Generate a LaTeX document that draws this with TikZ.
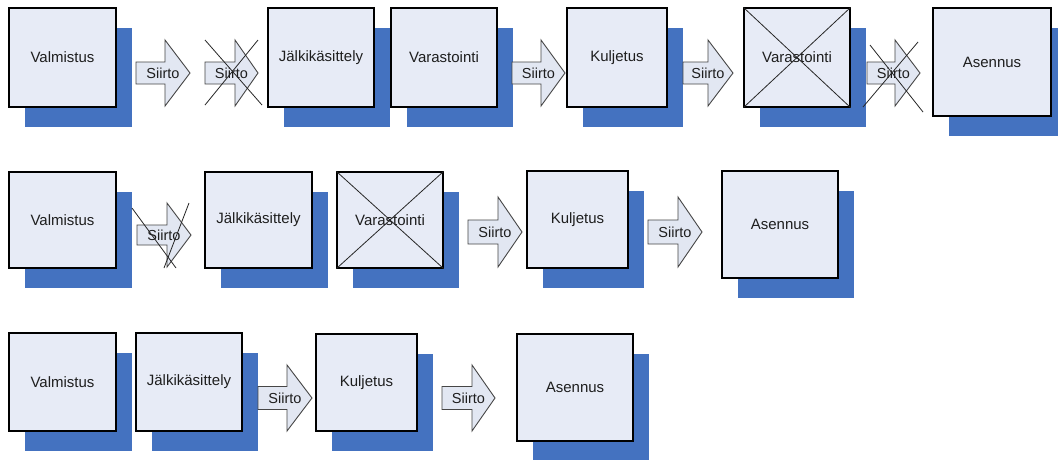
\documentclass[tikz,border=0pt]{standalone}
\usepackage{fontspec}
\setmainfont{Liberation Sans}
\usetikzlibrary{shadows}
\definecolor{boxfill}{RGB}{231,235,246}
\definecolor{shade}{RGB}{68,114,192}
\definecolor{arrfill}{RGB}{226,231,242}
\definecolor{arrline}{RGB}{70,70,70}
\definecolor{txt}{RGB}{30,30,30}
\tikzset{
  pbox/.style={draw=black, line width=1.1pt, fill=boxfill, inner sep=0pt,
    font=\fontsize{15}{18}\selectfont, text=txt,
    general shadow={fill=shade, shadow xshift=16pt, shadow yshift=-19.5pt}},
  arr/.style={draw=arrline, line width=0.9pt, fill=arrfill, line join=miter},
  sirt/.style={inner sep=0pt, font=\fontsize{14.5}{17}\selectfont, text=txt},
  xline/.style={draw=black!85, line width=0.8pt},
}
% name, x1, y1, x2, y2, text
\newcommand\pbox[6]{%
  \node[pbox, minimum width={#4-#2}, minimum height={#5-#3}] (#1) at ({(#2+#4)/2},{(#3+#5)/2}) {#6};}
% name, xleft, xhead, xtip, cy, shaft half, head half
\newcommand\siirto[7]{%
  \draw[arr] ({#2},{#5-#6}) -- ({#3},{#5-#6}) -- ({#3},{#5-#7}) -- ({#4},{#5})
     -- ({#3},{#5+#7}) -- ({#3},{#5+#6}) -- ({#2},{#5+#6}) -- cycle;
  \node[sirt] (#1) at ({(#2+#4)/2},{#5}) {Siirto};}
\begin{document}
\begin{tikzpicture}[x=1pt,y=-1pt]
\useasboundingbox (0,0) rectangle (1058,459);
\fill[white] (0,0) rectangle (1058,459);
% ---------- Row 1
\pbox{a1}{9}{8}{116}{107}{Valmistus}
\siirto{as1}{136}{165}{190}{73}{11}{33}
\siirto{as2}{205}{235}{258}{73}{11}{33}
\draw[xline] (205,40) -- (262,105);
\draw[xline] (258,40) -- (205,105);
\pbox{a2}{268}{8}{374}{107}{Jälkikäsittely}
\pbox{a3}{391}{8}{497}{107}{Varastointi}
\siirto{as3}{512}{541}{565}{73}{11}{33}
\pbox{a4}{567}{8}{667}{107}{Kuljetus}
\siirto{as4}{683}{708}{733}{73}{11}{33}
\pbox{a5}{744}{8}{850}{107}{Varastointi}
\draw[xline] (a5.north west) -- (a5.south east);
\draw[xline] (a5.north east) -- (a5.south west);
\siirto{as5}{867}{895}{920}{73}{11}{33}
\draw[xline] (870,45) -- (923,112);
\draw[xline] (918,42) -- (863,107);
\pbox{a6}{933}{8}{1051}{116}{Asennus}
% ---------- Row 2
\pbox{b1}{9}{172}{116}{268}{Valmistus}
\siirto{bs1}{137}{167}{191}{235}{10}{32}
\draw[xline] (132,208) -- (176,268);
\draw[xline] (189,203) -- (164,268);
\pbox{b2}{205}{172}{312}{268}{Jälkikäsittely}
\pbox{b3}{337}{172}{443}{268}{Varastointi}
\draw[xline] (b3.north west) -- (b3.south east);
\draw[xline] (b3.north east) -- (b3.south west);
\siirto{bs2}{468}{498}{522}{232}{12}{35}
\pbox{b4}{527}{171}{628}{268}{Kuljetus}
\siirto{bs3}{648}{678}{702}{232}{12}{35}
\pbox{b5}{722}{171}{838}{278}{Asennus}
% ---------- Row 3
\pbox{c1}{9}{333}{116}{431}{Valmistus}
\pbox{c2}{136}{333}{242}{431}{Jälkikäsittely}
\siirto{cs1}{258}{287}{312}{398}{11.5}{33}
\pbox{c3}{316}{334}{417}{431}{Kuljetus}
\siirto{cs2}{442}{472}{495}{398}{11.5}{33}
\pbox{c4}{517}{334}{633}{441}{Asennus}
\end{tikzpicture}
\end{document}
